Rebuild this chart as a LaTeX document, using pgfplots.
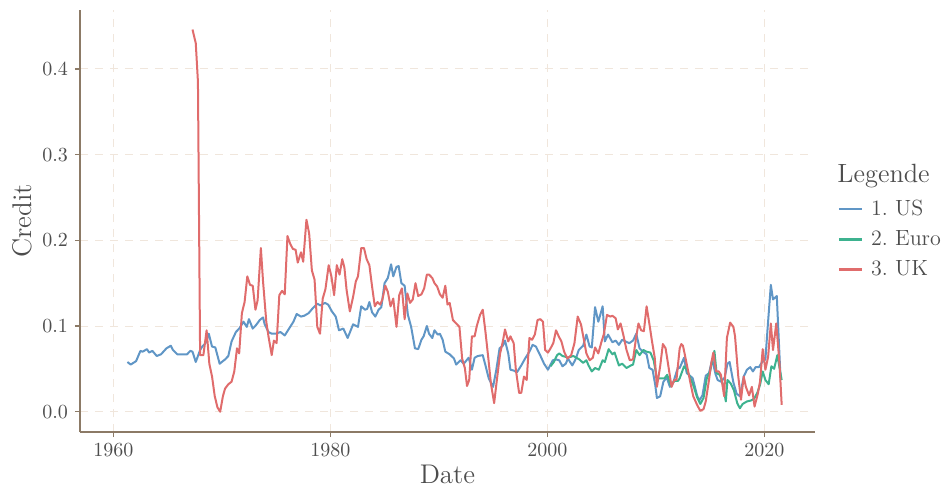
\documentclass[border=0pt]{standalone}
\usepackage{pgfplots}
\pgfplotsset{compat=1.18}
\definecolor{usblue}{HTML}{6096C6}
\definecolor{eugreen}{HTML}{3DB28F}
\definecolor{ukred}{HTML}{E06C6C}
\definecolor{axbrown}{HTML}{8C7A66}
\definecolor{gridc}{HTML}{F0E6DC}
\definecolor{txt}{HTML}{4D4D4D}
\begin{document}
\begin{tikzpicture}
\begin{axis}[
 at={(40pt,28.5pt)}, anchor=south west,
 scale only axis, width=367.5pt, height=211pt,
 xmin=1956.93, xmax=2024.67, ymin=-0.0237, ymax=0.4688,
 axis x line*=bottom, axis y line*=left,
 axis line style={axbrown, line width=0.6pt},
 xtick={1960,1980,2000,2020}, ytick={0,0.1,0.2,0.3,0.4},
 x tick label style={/pgf/number format/1000 sep={}},
 y tick label style={/pgf/number format/.cd, fixed, fixed zerofill, precision=1},
 tick style={axbrown, line width=0.6pt},
 tick align=outside, major tick length=2.5pt,
 grid=major, grid style={gridc, dash pattern=on 4pt off 3.5pt, line width=0.5pt},
 ticklabel style={font=\fontsize{10.3}{11}\selectfont, text=txt},
 xlabel={Date}, ylabel={Credit},
 label style={font=\fontsize{13.5}{15}\selectfont, text=txt},
 xlabel style={at={(axis description cs:0.5,0)}, anchor=center, yshift=-21pt},
 ylabel style={at={(axis description cs:-0.0789,0.5)}, anchor=center},
 legend style={at={(axis description cs:1.022,0.457)}, anchor=west, draw=none, fill=none,
   font=\fontsize{11}{12}\selectfont, text=txt, row sep=2pt,
   nodes={inner xsep=4pt}},
 legend cell align=left,
 legend image code/.code={\draw[#1,line width=1.3pt] (0pt,0pt) -- (11.5pt,0pt);},
 every axis plot/.append style={line width=1pt, line join=round},
]
\addplot[usblue] table {
1961.3 0.058
1961.6 0.055
1962.1 0.059
1962.5 0.071
1962.7 0.070
1963.1 0.073
1963.3 0.069
1963.6 0.071
1964.0 0.065
1964.4 0.067
1964.9 0.074
1965.3 0.077
1965.5 0.072
1965.9 0.067
1966.4 0.067
1966.8 0.067
1967.1 0.071
1967.3 0.070
1967.6 0.058
1968.0 0.072
1968.2 0.076
1968.5 0.080
1968.8 0.091
1969.1 0.076
1969.4 0.075
1969.8 0.056
1970.3 0.061
1970.6 0.065
1970.9 0.082
1971.3 0.093
1971.6 0.097
1972.0 0.105
1972.3 0.099
1972.5 0.108
1972.85 0.097
1973.15 0.101
1973.5 0.107
1973.8 0.110
1973.95 0.102
1974.3 0.093
1974.6 0.091
1975.0 0.091
1975.4 0.093
1975.8 0.089
1976.2 0.097
1976.6 0.105
1976.9 0.114
1977.3 0.111
1977.6 0.112
1978.0 0.115
1978.4 0.121
1978.8 0.126
1979.1 0.124
1979.5 0.127
1979.8 0.125
1980.15 0.117
1980.5 0.111
1980.8 0.095
1981.2 0.097
1981.6 0.086
1982.1 0.102
1982.55 0.099
1982.85 0.123
1983.2 0.119
1983.4 0.120
1983.6 0.128
1983.85 0.116
1984.15 0.111
1984.45 0.119
1984.7 0.122
1985.0 0.150
1985.3 0.156
1985.6 0.172
1985.8 0.158
1986.1 0.169
1986.3 0.170
1986.55 0.150
1986.85 0.147
1987.15 0.113
1987.45 0.099
1987.8 0.074
1988.1 0.073
1988.4 0.084
1988.6 0.088
1988.9 0.100
1989.1 0.091
1989.4 0.086
1989.6 0.095
1989.9 0.090
1990.1 0.091
1990.35 0.084
1990.6 0.070
1991.0 0.067
1991.4 0.062
1991.6 0.055
1992.0 0.060
1992.3 0.056
1992.75 0.063
1993.05 0.049
1993.3 0.063
1993.6 0.065
1994.05 0.066
1994.3 0.054
1994.6 0.039
1995.0 0.029
1995.3 0.049
1995.6 0.074
1995.9 0.077
1996.1 0.083
1996.4 0.068
1996.6 0.049
1996.9 0.048
1997.2 0.046
1997.6 0.054
1997.95 0.062
1998.3 0.069
1998.65 0.078
1998.95 0.076
1999.3 0.067
1999.7 0.056
2000.06 0.049
2000.5 0.060
2000.8 0.061
2001.1 0.060
2001.4 0.053
2001.7 0.056
2001.9 0.062
2002.3 0.054
2002.6 0.061
2002.9 0.072
2003.3 0.077
2003.6 0.090
2003.9 0.076
2004.1 0.075
2004.4 0.122
2004.7 0.105
2005.1 0.123
2005.3 0.082
2005.6 0.090
2006.0 0.081
2006.3 0.083
2006.6 0.078
2006.9 0.084
2007.2 0.082
2007.55 0.080
2007.9 0.083
2008.2 0.091
2008.5 0.074
2008.8 0.070
2009.15 0.067
2009.4 0.051
2009.7 0.049
2009.95 0.031
2010.1 0.016
2010.4 0.018
2010.7 0.035
2011.0 0.040
2011.3 0.029
2011.6 0.034
2012.05 0.052
2012.2 0.051
2012.6 0.063
2012.85 0.045
2013.15 0.042
2013.4 0.039
2013.8 0.019
2014.0 0.013
2014.3 0.019
2014.6 0.042
2014.9 0.045
2015.2 0.061
2015.5 0.044
2015.7 0.037
2016.0 0.035
2016.35 0.040
2016.6 0.056
2016.8 0.058
2017.15 0.034
2017.45 0.021
2017.75 0.018
2018.1 0.041
2018.4 0.049
2018.7 0.052
2018.95 0.047
2019.2 0.052
2019.5 0.052
2019.8 0.058
2020.1 0.061
2020.3 0.097
2020.6 0.148
2020.8 0.131
2021.15 0.135
2021.5 0.037
};
\addlegendentry{1.\ US}
\addplot[eugreen] table {
2000.3 0.053
2000.6 0.058
2000.9 0.066
2001.1 0.068
2001.4 0.065
2001.7 0.064
2001.9 0.063
2002.4 0.065
2002.95 0.061
2003.3 0.057
2003.6 0.060
2003.8 0.054
2004.1 0.047
2004.4 0.051
2004.75 0.049
2005.1 0.060
2005.3 0.058
2005.65 0.073
2006.0 0.067
2006.2 0.069
2006.6 0.054
2006.9 0.056
2007.3 0.051
2007.7 0.054
2007.9 0.055
2008.2 0.072
2008.5 0.066
2008.85 0.072
2009.15 0.070
2009.5 0.069
2009.8 0.060
2010.1 0.039
2010.45 0.039
2010.8 0.039
2011.05 0.043
2011.4 0.030
2011.7 0.036
2012.05 0.036
2012.2 0.039
2012.6 0.053
2012.85 0.049
2013.15 0.040
2013.45 0.031
2013.8 0.017
2014.1 0.009
2014.4 0.016
2014.7 0.039
2015.0 0.047
2015.4 0.071
2015.6 0.045
2015.9 0.043
2016.2 0.031
2016.45 0.012
2016.6 0.037
2016.9 0.033
2017.2 0.025
2017.5 0.010
2017.75 0.004
2018.0 0.009
2018.4 0.012
2018.75 0.013
2019.05 0.015
2019.35 0.022
2019.6 0.031
2019.85 0.047
2020.1 0.037
2020.4 0.032
2020.65 0.053
2020.9 0.050
2021.2 0.066
2021.6 0.037
};
\addlegendentry{2.\ Euro}
\addplot[ukred] table {
1967.3 0.446
1967.6 0.430
1967.8 0.385
1968.0 0.066
1968.3 0.066
1968.6 0.095
1968.85 0.056
1969.1 0.041
1969.35 0.018
1969.6 0.005
1969.85 0.000
1970.1 0.018
1970.3 0.027
1970.6 0.032
1970.9 0.035
1971.15 0.047
1971.4 0.074
1971.6 0.068
1971.85 0.115
1972.1 0.128
1972.35 0.158
1972.6 0.148
1972.85 0.147
1973.1 0.119
1973.3 0.130
1973.6 0.191
1973.8 0.152
1974.1 0.105
1974.3 0.088
1974.6 0.066
1974.8 0.083
1975.05 0.080
1975.3 0.136
1975.55 0.141
1975.8 0.137
1976.05 0.205
1976.3 0.196
1976.55 0.190
1976.8 0.189
1977.0 0.174
1977.3 0.186
1977.5 0.175
1977.8 0.224
1978.05 0.208
1978.3 0.165
1978.55 0.154
1978.8 0.099
1979.05 0.091
1979.3 0.132
1979.55 0.143
1979.85 0.171
1980.1 0.158
1980.35 0.136
1980.6 0.171
1980.85 0.160
1981.1 0.178
1981.3 0.168
1981.5 0.142
1981.8 0.117
1982.1 0.134
1982.35 0.152
1982.55 0.158
1982.85 0.191
1983.1 0.191
1983.35 0.178
1983.6 0.171
1983.85 0.146
1984.1 0.123
1984.35 0.128
1984.6 0.125
1984.8 0.131
1985.07 0.147
1985.3 0.140
1985.55 0.123
1985.8 0.132
1986.1 0.099
1986.35 0.136
1986.6 0.144
1986.85 0.108
1987.1 0.138
1987.35 0.127
1987.6 0.131
1987.85 0.150
1988.1 0.135
1988.4 0.137
1988.65 0.144
1988.9 0.160
1989.1 0.160
1989.4 0.156
1989.6 0.150
1989.85 0.146
1990.1 0.137
1990.35 0.133
1990.6 0.147
1990.8 0.125
1991.0 0.127
1991.3 0.107
1991.6 0.103
1991.9 0.099
1992.15 0.062
1992.4 0.051
1992.6 0.030
1992.8 0.037
1993.05 0.088
1993.3 0.088
1993.5 0.100
1993.8 0.113
1994.05 0.119
1994.3 0.093
1994.55 0.064
1994.8 0.033
1995.1 0.010
1995.35 0.037
1995.65 0.068
1995.9 0.082
1996.1 0.096
1996.4 0.082
1996.6 0.088
1996.9 0.080
1997.1 0.049
1997.4 0.022
1997.6 0.022
1997.85 0.041
1998.1 0.037
1998.35 0.086
1998.6 0.084
1998.85 0.090
1999.1 0.107
1999.35 0.108
1999.6 0.105
1999.8 0.072
2000.06 0.069
2000.3 0.074
2000.55 0.080
2000.8 0.095
2001.05 0.088
2001.3 0.082
2001.55 0.070
2001.85 0.062
2002.2 0.066
2002.5 0.080
2002.8 0.111
2003.1 0.102
2003.4 0.082
2003.6 0.068
2003.9 0.060
2004.2 0.063
2004.4 0.075
2004.7 0.068
2005.0 0.082
2005.2 0.090
2005.5 0.113
2005.8 0.111
2006.0 0.112
2006.3 0.109
2006.5 0.096
2006.75 0.103
2007.0 0.090
2007.3 0.072
2007.6 0.060
2007.9 0.061
2008.2 0.088
2008.4 0.103
2008.65 0.095
2008.9 0.094
2009.15 0.123
2009.4 0.103
2009.65 0.082
2009.9 0.063
2010.1 0.029
2010.4 0.053
2010.65 0.079
2010.9 0.074
2011.1 0.058
2011.45 0.029
2011.7 0.037
2011.9 0.037
2012.2 0.074
2012.35 0.079
2012.5 0.077
2012.7 0.065
2012.95 0.049
2013.2 0.033
2013.45 0.018
2013.8 0.008
2014.1 0.001
2014.4 0.003
2014.6 0.012
2014.9 0.037
2015.1 0.056
2015.3 0.069
2015.55 0.047
2015.8 0.047
2016.0 0.043
2016.3 0.018
2016.55 0.086
2016.85 0.104
2017.15 0.099
2017.3 0.088
2017.6 0.041
2017.85 0.014
2018.1 0.041
2018.3 0.029
2018.6 0.019
2018.85 0.029
2019.1 0.006
2019.4 0.021
2019.6 0.035
2019.85 0.073
2020.1 0.049
2020.35 0.064
2020.6 0.103
2020.8 0.072
2021.1 0.103
2021.4 0.056
2021.6 0.008
};
\addlegendentry{3.\ UK}
\coordinate (legT) at (axis description cs:1.030,0.607);
\end{axis}
\node[anchor=west, inner sep=0pt, font=\fontsize{13.2}{15}\selectfont, text=txt] at (legT) {Legende};
\pgfresetboundingbox
\path (0,0) rectangle (474pt,244.5pt);
\end{tikzpicture}
\end{document}
